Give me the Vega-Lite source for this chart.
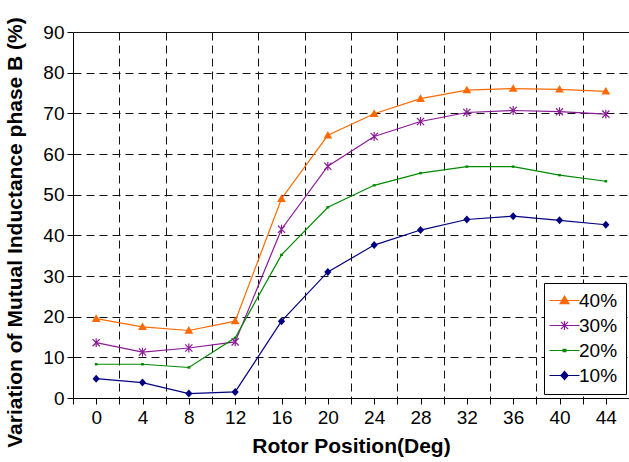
{
  "$schema": "https://vega.github.io/schema/vega-lite/v6.json",
  "autosize": {"type": "none"},
  "padding": {"left": 73, "top": 32, "right": 0, "bottom": 64},
  "width": 556,
  "height": 366,
  "background": "white",
  "config": {
    "font": "Liberation Sans",
    "view": {"stroke": null},
    "axis": {"labelFont": "Liberation Sans", "titleFont": "Liberation Sans", "labelColor": "black", "titleColor": "black", "domainColor": "black", "tickColor": "black"}
  },
  "data": {
    "values": [
      {"pos": 0, "series": "40%", "v": 19.5}, {"pos": 4, "series": "40%", "v": 17.5}, {"pos": 8, "series": "40%", "v": 16.6}, {"pos": 12, "series": "40%", "v": 18.9},
      {"pos": 16, "series": "40%", "v": 49.0}, {"pos": 20, "series": "40%", "v": 64.6}, {"pos": 24, "series": "40%", "v": 69.9}, {"pos": 28, "series": "40%", "v": 73.6},
      {"pos": 32, "series": "40%", "v": 75.7}, {"pos": 36, "series": "40%", "v": 76.1}, {"pos": 40, "series": "40%", "v": 75.9}, {"pos": 44, "series": "40%", "v": 75.4},
      {"pos": 0, "series": "30%", "v": 13.6}, {"pos": 4, "series": "30%", "v": 11.3}, {"pos": 8, "series": "30%", "v": 12.3}, {"pos": 12, "series": "30%", "v": 13.8},
      {"pos": 16, "series": "30%", "v": 41.5}, {"pos": 20, "series": "30%", "v": 57.0}, {"pos": 24, "series": "30%", "v": 64.3}, {"pos": 28, "series": "30%", "v": 68.0},
      {"pos": 32, "series": "30%", "v": 70.2}, {"pos": 36, "series": "30%", "v": 70.7}, {"pos": 40, "series": "30%", "v": 70.4}, {"pos": 44, "series": "30%", "v": 69.8},
      {"pos": 0, "series": "20%", "v": 8.3}, {"pos": 4, "series": "20%", "v": 8.3}, {"pos": 8, "series": "20%", "v": 7.5}, {"pos": 12, "series": "20%", "v": 14.8},
      {"pos": 16, "series": "20%", "v": 35.2}, {"pos": 20, "series": "20%", "v": 46.9}, {"pos": 24, "series": "20%", "v": 52.3}, {"pos": 28, "series": "20%", "v": 55.3},
      {"pos": 32, "series": "20%", "v": 56.9}, {"pos": 36, "series": "20%", "v": 56.9}, {"pos": 40, "series": "20%", "v": 54.8}, {"pos": 44, "series": "20%", "v": 53.3},
      {"pos": 0, "series": "10%", "v": 4.75}, {"pos": 4, "series": "10%", "v": 3.8}, {"pos": 8, "series": "10%", "v": 1.1}, {"pos": 12, "series": "10%", "v": 1.5},
      {"pos": 16, "series": "10%", "v": 18.9}, {"pos": 20, "series": "10%", "v": 31.0}, {"pos": 24, "series": "10%", "v": 37.6}, {"pos": 28, "series": "10%", "v": 41.3},
      {"pos": 32, "series": "10%", "v": 43.9}, {"pos": 36, "series": "10%", "v": 44.7}, {"pos": 40, "series": "10%", "v": 43.7}, {"pos": 44, "series": "10%", "v": 42.6}
    ]
  },
  "encoding": {
    "x": {
      "field": "pos", "type": "quantitative",
      "scale": {"domain": [-2, 46], "nice": false, "zero": false},
      "axis": {
        "title": "Rotor Position(Deg)",
        "titleFontSize": 21, "titleFontWeight": "bold", "titlePadding": 8,
        "labelFontSize": 19, "labelPadding": 4, "tickSize": 6,
        "values": [-2, 0, 2, 4, 6, 8, 10, 12, 14, 16, 18, 20, 22, 24, 26, 28, 30, 32, 34, 36, 38, 40, 42, 44, 46],
        "labelExpr": "(datum.value % 4 == 0 && datum.value >= 0 && datum.value <= 44) ? datum.label : ''",
        "labelFlush": false,
        "grid": true,
        "gridColor": "#111",
        "gridDash": [8, 5],
        "gridOpacity": {"condition": {"test": "datum.value % 4 != 0 && datum.value > 0 && datum.value < 46", "value": 1}, "value": 0}
      }
    },
    "y": {
      "field": "v", "type": "quantitative",
      "scale": {"domain": [0, 90], "nice": false},
      "axis": {
        "title": "Variation of Mutual Inductance phase B (%)",
        "titleFontSize": 21, "titleFontWeight": "bold", "titlePadding": 17, "titleY": 200,
        "labelFontSize": 19, "labelPadding": 3, "tickSize": 6,
        "values": [0, 10, 20, 30, 40, 50, 60, 70, 80, 90],
        "grid": true,
        "gridColor": "#111",
        "gridDash": {"condition": {"test": "datum.value == 90", "value": []}, "value": [8, 5]},
        "gridOpacity": {"condition": {"test": "datum.value == 0", "value": 0}, "value": 1}
      }
    },
    "color": {"field": "series", "type": "nominal",
      "scale": {"domain": ["40%", "30%", "20%", "10%"], "range": ["#FF6A00", "#8B1A96", "#008A00", "#000080"]},
      "legend": {
        "title": null,
        "orient": "none", "legendX": 471, "legendY": 251,
        "labelFontSize": 19, "labelFont": "Liberation Sans", "labelColor": "black",
        "strokeColor": "black", "fillColor": "white",
        "padding": 8, "rowPadding": 5,
        "symbolSize": 64, "symbolOffset": 3, "labelOffset": 5, "symbolStrokeWidth": 1.2,
        "encode": {
          "symbols": {
            "update": {
              "shape": {"signal": "datum.value == '40%' ? 'M-3.75,0H3.75M0,-1.1L1.1,0.8L-1.1,0.8Z' : datum.value == '30%' ? 'M-3.75,0H3.75M-0.9,-0.9L0.9,0.9M0.9,-0.9L-0.9,0.9M0,-1.1V1.1' : datum.value == '20%' ? 'M-3.75,0H3.75M-0.35,-0.3H0.35V0.3H-0.35Z' : 'M-3.75,0H3.75M0,-1L0.9,0L0,1L-0.9,0Z'"},
              "fill": {"scale": "color", "field": "value"},
              "stroke": {"scale": "color", "field": "value"},
              "strokeWidth": {"value": 1.2},
              "opacity": {"value": 1}
            }
          }
        }
      }
    }
  },
  "layer": [
    {"mark": {"type": "line", "strokeWidth": 1.2}},
    {
      "transform": [{"filter": "datum.series == '40%'"}],
      "mark": {"type": "point", "filled": true, "size": 64, "opacity": 1, "shape": "M0,-1.1L1.1,0.8L-1.1,0.8Z"}
    },
    {
      "transform": [{"filter": "datum.series == '30%'"}],
      "mark": {"type": "point", "filled": false, "size": 64, "opacity": 1, "strokeWidth": 1.2, "shape": "M-0.9,-0.9L0.9,0.9M0.9,-0.9L-0.9,0.9M0,-1.1V1.1"}
    },
    {
      "transform": [{"filter": "datum.series == '20%'"}],
      "mark": {"type": "point", "filled": true, "size": 64, "opacity": 1, "shape": "M-0.35,-0.3H0.35V0.3H-0.35Z"}
    },
    {
      "transform": [{"filter": "datum.series == '10%'"}],
      "mark": {"type": "point", "filled": true, "size": 64, "opacity": 1, "shape": "M0,-1L0.9,0L0,1L-0.9,0Z"}
    }
  ]
}
